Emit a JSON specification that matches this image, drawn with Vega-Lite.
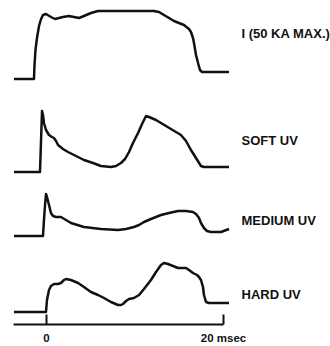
{
  "$schema": "https://vega.github.io/schema/vega-lite/v6.json",
  "width": 210,
  "height": 324,
  "padding": {"left": 12, "top": 0, "right": 0, "bottom": 0},
  "background": "white",
  "config": {"view": {"stroke": null}},
  "data": {"values": [
    {"s":"I","t":-3.62,"v":245},{"s":"I","t":-1.36,"v":245},{"s":"I","t":-1.30,"v":259},{"s":"I","t":-1.19,"v":274},{"s":"I","t":-1.02,"v":286},{"s":"I","t":-0.79,"v":298},{"s":"I","t":-0.56,"v":305},{"s":"I","t":-0.34,"v":309},{"s":"I","t":0,"v":310},{"s":"I","t":0.56,"v":307},{"s":"I","t":1.02,"v":305},{"s":"I","t":1.92,"v":307},{"s":"I","t":2.60,"v":308},{"s":"I","t":3.16,"v":307},{"s":"I","t":3.73,"v":306},{"s":"I","t":4.29,"v":308},{"s":"I","t":5.08,"v":311},{"s":"I","t":5.88,"v":313},{"s":"I","t":7.34,"v":313},{"s":"I","t":12.20,"v":313},{"s":"I","t":12.77,"v":312},{"s":"I","t":13.33,"v":309},{"s":"I","t":13.90,"v":306},{"s":"I","t":14.46,"v":303},{"s":"I","t":15.59,"v":299},{"s":"I","t":16.16,"v":295},{"s":"I","t":16.38,"v":292},{"s":"I","t":16.61,"v":286},{"s":"I","t":16.72,"v":281},{"s":"I","t":16.95,"v":269},{"s":"I","t":17.18,"v":261},{"s":"I","t":17.40,"v":254},{"s":"I","t":17.63,"v":252},{"s":"I","t":20.68,"v":252},
    {"s":"SOFT UV","t":-3.62,"v":152},{"s":"SOFT UV","t":-0.68,"v":152},{"s":"SOFT UV","t":-0.56,"v":184},{"s":"SOFT UV","t":-0.45,"v":213},{"s":"SOFT UV","t":-0.34,"v":209},{"s":"SOFT UV","t":-0.23,"v":201},{"s":"SOFT UV","t":0,"v":194},{"s":"SOFT UV","t":0.34,"v":189},{"s":"SOFT UV","t":0.68,"v":187},{"s":"SOFT UV","t":0.90,"v":186},{"s":"SOFT UV","t":1.13,"v":183},{"s":"SOFT UV","t":1.36,"v":179},{"s":"SOFT UV","t":1.92,"v":175},{"s":"SOFT UV","t":2.49,"v":172},{"s":"SOFT UV","t":3.39,"v":168},{"s":"SOFT UV","t":4.29,"v":164},{"s":"SOFT UV","t":5.31,"v":161},{"s":"SOFT UV","t":6.21,"v":158},{"s":"SOFT UV","t":7.34,"v":157},{"s":"SOFT UV","t":7.91,"v":158},{"s":"SOFT UV","t":8.47,"v":161},{"s":"SOFT UV","t":8.93,"v":165},{"s":"SOFT UV","t":9.38,"v":172},{"s":"SOFT UV","t":9.83,"v":181},{"s":"SOFT UV","t":10.40,"v":191},{"s":"SOFT UV","t":10.85,"v":200},{"s":"SOFT UV","t":11.30,"v":208},{"s":"SOFT UV","t":11.64,"v":207},{"s":"SOFT UV","t":12.43,"v":204},{"s":"SOFT UV","t":12.99,"v":201},{"s":"SOFT UV","t":14.12,"v":195},{"s":"SOFT UV","t":15.25,"v":189},{"s":"SOFT UV","t":15.82,"v":183},{"s":"SOFT UV","t":16.38,"v":174},{"s":"SOFT UV","t":16.95,"v":166},{"s":"SOFT UV","t":17.51,"v":158},{"s":"SOFT UV","t":17.85,"v":157},{"s":"SOFT UV","t":20.68,"v":157},
    {"s":"MEDIUM UV","t":-3.62,"v":88},{"s":"MEDIUM UV","t":-0.34,"v":88},{"s":"MEDIUM UV","t":-0.23,"v":104},{"s":"MEDIUM UV","t":-0.11,"v":119},{"s":"MEDIUM UV","t":0,"v":130},{"s":"MEDIUM UV","t":0.11,"v":127},{"s":"MEDIUM UV","t":0.34,"v":119},{"s":"MEDIUM UV","t":0.56,"v":111},{"s":"MEDIUM UV","t":0.79,"v":108},{"s":"MEDIUM UV","t":1.13,"v":107},{"s":"MEDIUM UV","t":1.69,"v":107},{"s":"MEDIUM UV","t":2.26,"v":104},{"s":"MEDIUM UV","t":2.82,"v":101},{"s":"MEDIUM UV","t":4.29,"v":97},{"s":"MEDIUM UV","t":6.21,"v":95},{"s":"MEDIUM UV","t":8.14,"v":94},{"s":"MEDIUM UV","t":9.04,"v":95},{"s":"MEDIUM UV","t":9.94,"v":97},{"s":"MEDIUM UV","t":10.51,"v":99},{"s":"MEDIUM UV","t":11.07,"v":102},{"s":"MEDIUM UV","t":11.86,"v":105},{"s":"MEDIUM UV","t":12.99,"v":109},{"s":"MEDIUM UV","t":13.90,"v":111},{"s":"MEDIUM UV","t":14.92,"v":113},{"s":"MEDIUM UV","t":15.82,"v":113},{"s":"MEDIUM UV","t":16.61,"v":112},{"s":"MEDIUM UV","t":16.95,"v":110},{"s":"MEDIUM UV","t":17.29,"v":106},{"s":"MEDIUM UV","t":17.51,"v":101},{"s":"MEDIUM UV","t":17.85,"v":96},{"s":"MEDIUM UV","t":18.19,"v":93},{"s":"MEDIUM UV","t":18.64,"v":92},{"s":"MEDIUM UV","t":19.77,"v":92},{"s":"MEDIUM UV","t":20.68,"v":95},
    {"s":"HARD UV","t":-3.62,"v":12},{"s":"HARD UV","t":0,"v":12},{"s":"HARD UV","t":0.11,"v":24},{"s":"HARD UV","t":0.34,"v":34},{"s":"HARD UV","t":0.56,"v":38},{"s":"HARD UV","t":0.90,"v":40},{"s":"HARD UV","t":1.36,"v":40},{"s":"HARD UV","t":1.69,"v":41},{"s":"HARD UV","t":2.03,"v":44},{"s":"HARD UV","t":2.26,"v":45},{"s":"HARD UV","t":2.82,"v":44},{"s":"HARD UV","t":3.62,"v":41},{"s":"HARD UV","t":4.29,"v":37},{"s":"HARD UV","t":5.08,"v":32},{"s":"HARD UV","t":5.88,"v":29},{"s":"HARD UV","t":6.55,"v":26},{"s":"HARD UV","t":7.34,"v":22},{"s":"HARD UV","t":8.14,"v":19},{"s":"HARD UV","t":8.47,"v":19},{"s":"HARD UV","t":8.70,"v":20},{"s":"HARD UV","t":9.04,"v":23},{"s":"HARD UV","t":9.38,"v":25},{"s":"HARD UV","t":9.94,"v":26},{"s":"HARD UV","t":10.51,"v":29},{"s":"HARD UV","t":11.07,"v":35},{"s":"HARD UV","t":11.86,"v":44},{"s":"HARD UV","t":12.43,"v":52},{"s":"HARD UV","t":12.99,"v":59},{"s":"HARD UV","t":13.33,"v":61},{"s":"HARD UV","t":13.79,"v":60},{"s":"HARD UV","t":14.35,"v":58},{"s":"HARD UV","t":14.92,"v":56},{"s":"HARD UV","t":15.37,"v":56},{"s":"HARD UV","t":15.82,"v":56},{"s":"HARD UV","t":16.16,"v":54},{"s":"HARD UV","t":16.61,"v":51},{"s":"HARD UV","t":17.06,"v":49},{"s":"HARD UV","t":17.29,"v":47},{"s":"HARD UV","t":17.51,"v":44},{"s":"HARD UV","t":17.74,"v":37},{"s":"HARD UV","t":17.85,"v":29},{"s":"HARD UV","t":18.08,"v":22},{"s":"HARD UV","t":18.42,"v":21},{"s":"HARD UV","t":20.68,"v":21}
  ]},
  "mark": {"type": "line", "color": "#111111", "strokeWidth": 2.5, "strokeJoin": "round", "strokeCap": "butt", "clip": false},
  "encoding": {
    "detail": {"field": "s", "type": "nominal"},
    "x": {
      "field": "t", "type": "quantitative",
      "scale": {"domain": [-3.73, 20], "nice": false, "zero": false},
      "axis": {
        "orient": "bottom", "title": null, "grid": false,
        "values": [0, 20],
        "labelExpr": "datum.value == 20 ? '20 msec' : '0'",
        "domainColor": "#111111", "domainWidth": 2,
        "tickColor": "#111111", "tickWidth": 2, "tickSize": -10,
        "labelPadding": 18, "labelFlush": false, "labelOverlap": false,
        "labelFont": "Liberation Sans", "labelFontWeight": "bold", "labelFontSize": 11.5,
        "labelColor": "#111111", "labelAlign": "center", "labelBaseline": "top"
      }
    },
    "y": {
      "field": "v", "type": "quantitative",
      "scale": {"domain": [0, 324], "nice": false, "zero": false},
      "axis": {
        "orient": "right", "title": null, "grid": false, "domain": false, "ticks": false, "tickSize": 0,
        "values": [291, 184, 104, 30],
        "labelExpr": "datum.value == 291 ? 'I (50 KA MAX.)' : datum.value == 184 ? 'SOFT UV' : datum.value == 104 ? 'MEDIUM UV' : 'HARD UV'",
        "labelPadding": 18, "labelFlush": false, "labelOverlap": false, "labelBound": false,
        "labelFont": "Liberation Sans", "labelFontWeight": "bold", "labelFontSize": 13,
        "labelColor": "#111111", "labelAlign": "left", "labelBaseline": "middle"
      }
    }
  }
}
